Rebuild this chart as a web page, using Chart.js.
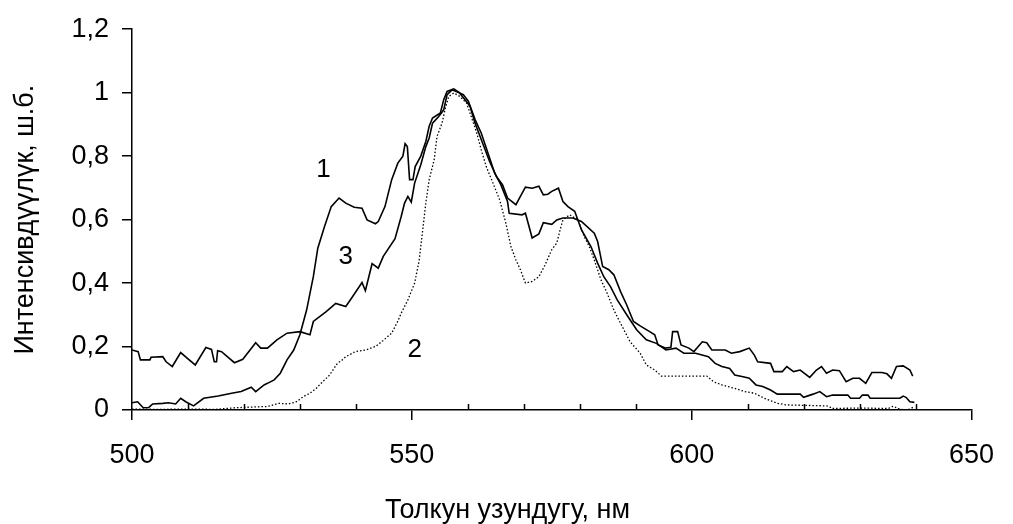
<!DOCTYPE html>
<html>
<head>
<meta charset="utf-8">
<script src="https://cdn.jsdelivr.net/npm/chart.js@4/dist/chart.umd.min.js"></script>
<style>
html,body{margin:0;padding:0;background:#fff;}
#wrap{width:1013px;height:524px;}
</style>
</head>
<body>
<div id="wrap"><canvas id="c" width="1013" height="524"></canvas></div>
<script>
// ---- data (wavelength nm, relative intensity) ----
const curve1 = [[500,0.023],[501,0.026],[502,0.007],[503,0.008],[503.7,0.019],[505.5,0.021],[506.5,0.023],[507.8,0.019],[508.7,0.037],[509.6,0.026],[511,0.013],[512.8,0.037],[515.4,0.044],[517.8,0.053],[519.5,0.058],[521.3,0.072],[522.1,0.058],[523.6,0.079],[524.2,0.084],[525.4,0.095],[526.5,0.116],[527.7,0.158],[528.9,0.189],[530,0.237],[531.2,0.315],[532.4,0.42],[533.2,0.51],[534.4,0.578],[535.6,0.641],[537,0.668],[538.2,0.652],[539.7,0.639],[541.1,0.636],[542,0.599],[543.5,0.587],[544,0.594],[545.2,0.641],[546.4,0.726],[547.5,0.778],[548.4,0.8],[548.8,0.839],[549.2,0.83],[549.6,0.726],[550.2,0.726],[550.6,0.767],[551.6,0.8],[552.5,0.846],[553.1,0.894],[553.7,0.92],[555.1,0.936],[555.7,0.978],[556.3,1.004],[557.5,1.012],[558.5,1.0],[559.5,0.978],[560.4,0.957],[561.3,0.904],[562.2,0.862],[563,0.825],[563.9,0.783],[565.1,0.736],[566.2,0.71],[567.1,0.668],[568.6,0.647],[569.4,0.673],[570.3,0.702],[571.5,0.699],[572.7,0.705],[573.5,0.678],[574.3,0.68],[575,0.689],[576.2,0.699],[577,0.657],[577.9,0.641],[579.1,0.626],[580.3,0.568],[582,0.515],[583.2,0.463],[584.3,0.42],[585.5,0.389],[586.7,0.347],[588.4,0.3],[590.2,0.252],[591.9,0.221],[593.7,0.21],[595.4,0.189],[597.2,0.195],[598.6,0.179],[600.7,0.179],[603,0.168],[604.2,0.147],[605.4,0.137],[606.8,0.131],[607.7,0.11],[609.2,0.105],[610.3,0.1],[611.5,0.079],[612.7,0.074],[614.1,0.063],[615.3,0.05],[619.4,0.05],[620,0.04],[621.7,0.05],[622.9,0.058],[624.1,0.042],[625.2,0.047],[627.9,0.047],[628.4,0.037],[630,0.037],[630.5,0.047],[631.5,0.047],[631.9,0.037],[637.2,0.037],[637.8,0.044],[638.3,0.04],[639,0.026],[639.8,0.024]];

const curve2 = [[500,0.003],[505,0.002],[510,0.003],[515,0.002],[518.3,0.007],[521,0.009],[524.2,0.011],[526.2,0.021],[528,0.019],[529.4,0.026],[530.6,0.042],[531.8,0.053],[532.9,0.068],[533.5,0.079],[535.3,0.11],[536.7,0.147],[537.6,0.158],[538.2,0.168],[539.9,0.184],[541.7,0.189],[543.5,0.2],[544.6,0.215],[546.4,0.242],[547.5,0.28],[548.1,0.305],[549.3,0.347],[550.5,0.4],[551.3,0.47],[551.9,0.56],[552.5,0.652],[553.1,0.726],[554,0.789],[554.5,0.862],[555.4,0.904],[556,0.952],[556.6,0.988],[557.5,0.999],[558.6,0.988],[559.8,0.967],[560.7,0.92],[561.6,0.873],[562.4,0.82],[563.3,0.767],[564.5,0.715],[565.7,0.662],[566.8,0.589],[567.7,0.515],[568.6,0.473],[569.4,0.442],[570.3,0.4],[571.5,0.405],[572.7,0.42],[573.8,0.457],[575,0.505],[575.9,0.526],[576.5,0.568],[577,0.599],[578.2,0.615],[579.7,0.599],[580.8,0.547],[581.7,0.515],[582.6,0.473],[583.8,0.41],[584.9,0.368],[586.1,0.315],[587.3,0.273],[589,0.215],[590.8,0.179],[591.9,0.142],[593.4,0.126],[594.6,0.107],[602.7,0.107],[603.9,0.089],[605.4,0.079],[607.7,0.068],[609.5,0.058],[611.2,0.053],[613,0.037],[615.3,0.021],[617,0.016],[624.1,0.013],[624.6,0.011],[625,0.005],[630,0.006],[635.2,0.005],[636,0.012],[637,0.004],[638,0.0],[639,0.003],[639.8,0.011]];

const curve3 = [[500,0.189],[501.1,0.184],[501.5,0.158],[503.2,0.158],[503.4,0.166],[505.5,0.168],[506.1,0.152],[507.2,0.137],[508.7,0.181],[509.9,0.163],[511.3,0.142],[513.2,0.197],[514.2,0.191],[514.7,0.152],[515.1,0.152],[515.3,0.187],[516,0.184],[518.3,0.149],[519.8,0.16],[522.1,0.212],[523,0.195],[524.2,0.195],[525.9,0.221],[527.7,0.242],[530,0.247],[531.8,0.237],[532.4,0.279],[534.7,0.31],[536.4,0.336],[538.2,0.326],[539.4,0.357],[541.1,0.402],[541.7,0.376],[542.9,0.461],[544,0.447],[544.9,0.484],[547,0.54],[548.1,0.61],[548.7,0.652],[549.3,0.673],[549.9,0.655],[550.5,0.715],[551.6,0.773],[552.5,0.83],[553.1,0.857],[553.7,0.904],[554.8,0.925],[555.7,0.946],[556.3,0.994],[557.2,1.009],[559.2,0.994],[560.1,0.973],[561.3,0.915],[562.4,0.873],[563.6,0.81],[564.8,0.747],[565.9,0.71],[567.1,0.657],[567.4,0.62],[569.7,0.615],[570.3,0.62],[571.5,0.542],[572.7,0.555],[573.5,0.59],[575,0.585],[575.9,0.599],[577,0.605],[578.8,0.605],[580.3,0.594],[582.6,0.557],[583.2,0.531],[584.1,0.452],[585.2,0.442],[586.1,0.426],[587.3,0.373],[588.4,0.331],[589.6,0.279],[590.8,0.265],[592.5,0.247],[593.4,0.237],[594,0.205],[595.4,0.195],[596.3,0.198],[596.6,0.247],[597.5,0.247],[598.1,0.205],[599.5,0.195],[600.4,0.184],[601.9,0.215],[602.7,0.212],[603.6,0.189],[606,0.189],[607.1,0.179],[608.6,0.184],[610.3,0.195],[611.2,0.173],[611.8,0.152],[614.1,0.147],[614.7,0.121],[616.2,0.121],[617,0.137],[618.2,0.121],[619.4,0.126],[621.1,0.103],[622.3,0.126],[623.2,0.137],[624.1,0.116],[625.2,0.126],[626.4,0.124],[627.6,0.089],[628.8,0.1],[630,0.1],[631.1,0.084],[632.2,0.118],[634,0.118],[634.9,0.114],[635.7,0.1],[636.6,0.137],[637.8,0.139],[639,0.126],[639.5,0.107]];

const xTicks = [500, 550, 600, 650];
const xMinorTicks = [510,520,530,540,560,570,580,590,610,620,630,640];
const yTicks = [0, 0.2, 0.4, 0.6, 0.8, 1, 1.2];
const curveLabels = [
  {text:'1', x:534.2, y:0.757},
  {text:'2', x:550.5, y:0.189},
  {text:'3', x:538.2, y:0.483}
];
const xTitle = 'Толкун узундугу, нм';
const yTitle = 'Интенсивдүүлүк, ш.б.';

// ---- rendering ----
const FONT = '"Liberation Sans", Arial, sans-serif';
const toPts = arr => arr.map(p => ({x:p[0], y:p[1]}));

const extrasPlugin = {
  id:'extras',
  afterDraw(chart){
    const ctx = chart.ctx, xs = chart.scales.x, ys = chart.scales.y;
    const yb = ys.getPixelForValue(0);
    ctx.save();
    ctx.strokeStyle = '#000';
    ctx.lineWidth = 1.5;
    xMinorTicks.forEach(v => {
      const px = Math.round(xs.getPixelForValue(v)) + 0.5;
      ctx.beginPath(); ctx.moveTo(px, yb); ctx.lineTo(px, yb - 6); ctx.stroke();
    });
    ctx.fillStyle = '#000';
    ctx.font = '26px ' + FONT;
    ctx.textAlign = 'center';
    ctx.textBaseline = 'middle';
    curveLabels.forEach(l => {
      ctx.fillText(l.text, xs.getPixelForValue(l.x), ys.getPixelForValue(l.y));
    });
    // x-axis title, centred on the page as in the original
    ctx.font = '27px ' + FONT;
    ctx.fillText(xTitle, chart.width / 2 + 1, 511);
    ctx.restore();
  }
};

new Chart(document.getElementById('c'), {
  type:'line',
  data:{
    datasets:[
      {label:'1', data:toPts(curve1), borderColor:'#000', borderWidth:1.6, pointRadius:0, tension:0, fill:false},
      {label:'2', data:toPts(curve2), borderColor:'#000', borderWidth:1.3, borderDash:[1.5,2], pointRadius:0, tension:0, fill:false},
      {label:'3', data:toPts(curve3), borderColor:'#000', borderWidth:1.6, pointRadius:0, tension:0, fill:false}
    ]
  },
  options:{
    responsive:false,
    animation:false,
    devicePixelRatio:1,
    layout:{padding:{top:29, right:25, left:0, bottom:0}},
    plugins:{legend:{display:false}, tooltip:{enabled:false}},
    scales:{
      x:{
        type:'linear', min:500, max:650,
        afterBuildTicks(s){ s.ticks = xTicks.map(v => ({value:v})); },
        ticks:{color:'#000', font:{size:27, family:FONT}, padding:19, maxRotation:0, autoSkip:false},
        grid:{drawOnChartArea:false, drawTicks:true, tickLength:10, color:'#000', lineWidth:1.5},
        border:{color:'#000', width:1.5},
        title:{display:false},
        afterFit(s){ s.height = 114; }
      },
      y:{
        min:0, max:1.2,
        afterBuildTicks(s){ s.ticks = yTicks.map(v => ({value:v})); },
        ticks:{color:'#000', font:{size:27, family:FONT}, padding:13,
          callback:v => String(Math.round(v*10)/10).replace('.', ',')},
        grid:{drawOnChartArea:false, drawTicks:true, tickLength:10, color:'#000', lineWidth:1.5},
        border:{color:'#000', width:1.5},
        title:{display:true, text:yTitle, color:'#000', font:{size:27, family:FONT, lineHeight:1}, padding:{top:12, bottom:0}},
        afterFit(s){ s.width = 132; }
      }
    }
  },
  plugins:[extrasPlugin]
});
</script>
</body>
</html>
